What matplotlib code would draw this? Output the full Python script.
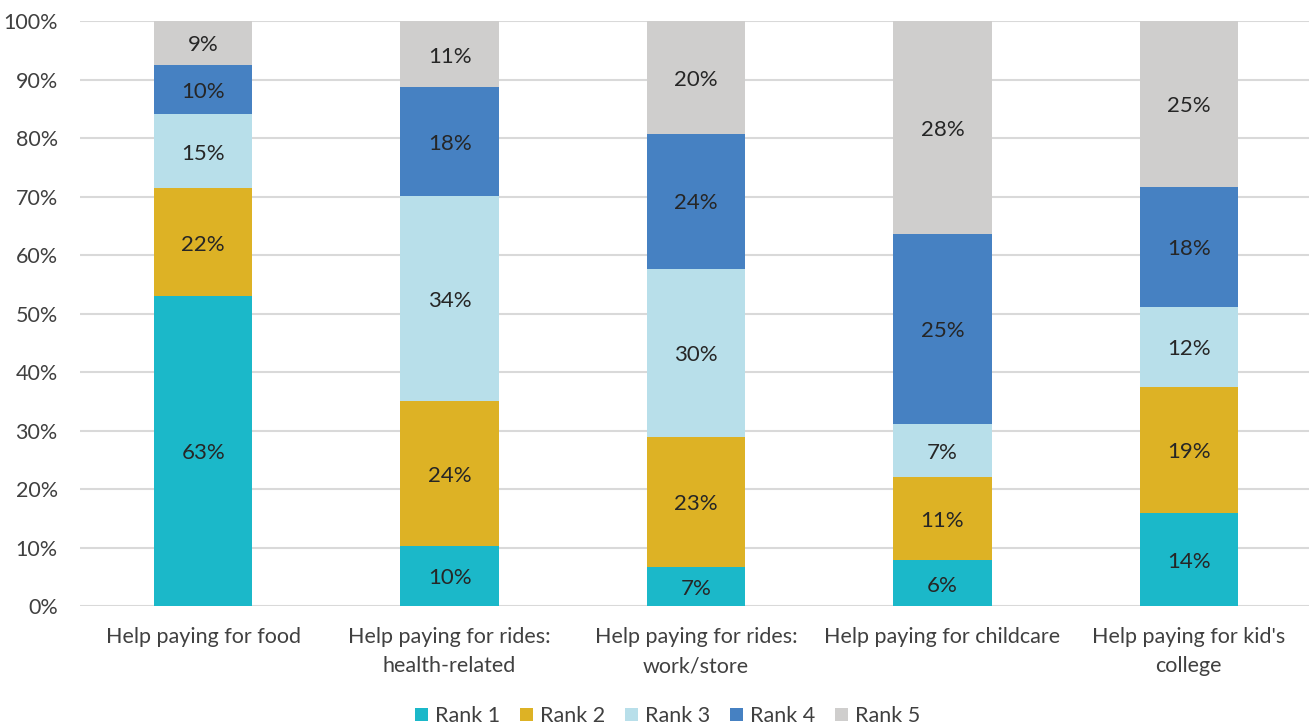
import numpy as np
import matplotlib.pyplot as plt

plt.rcParams['font.family'] = ['Lato', 'DejaVu Sans']

categories = ['Help paying for food', 'Help paying for rides:\nhealth-related',
              'Help paying for rides:\nwork/store', 'Help paying for childcare',
              "Help paying for kid's\ncollege"]
ranks = ['Rank 1', 'Rank 2', 'Rank 3', 'Rank 4', 'Rank 5']

rank1 = [63, 10, 7, 6, 14]
rank2 = [22, 24, 23, 11, 19]
rank3 = [15, 34, 30, 7, 12]
rank4 = [10, 18, 24, 25, 18]
rank5 = [9, 11, 20, 28, 25]

colors = ['#1BB8C9', '#DDB225', '#B8DFEA', '#4681C2', '#CFCECD']

values = np.array([rank1, rank2, rank3, rank4, rank5], dtype=float)
shares = values / values.sum(axis=0)  # 100% stacked

fig = plt.figure(figsize=(13.09, 7.25), dpi=100)
ax = fig.add_axes([80 / 1309, 1 - 606 / 725, 1232 / 1309, 585 / 725])

x = np.arange(len(categories))
bottom = np.zeros(len(categories))
for i in range(len(ranks)):
    bars = ax.bar(x, shares[i], 0.4, bottom=bottom, color=colors[i], label=ranks[i], zorder=2)
    for j, b in enumerate(bars):
        ax.text(b.get_x() + b.get_width() / 2, bottom[j] + shares[i][j] / 2 - 0.004,
                '{}%'.format(int(values[i][j])), ha='center', va='center',
                fontsize=16, color='#262626', zorder=3)
    bottom += shares[i]

ax.set_xlim(-0.5, 4.5)
ax.set_ylim(0, 1)
ax.set_yticks(np.arange(0, 1.01, 0.1))
ax.set_yticklabels(['{}%'.format(v) for v in range(0, 101, 10)])
ax.set_xticks(x, categories)
for lbl in ax.get_xticklabels():
    lbl.set_linespacing(1.6)
ax.tick_params(axis='both', length=0, labelsize=15.5, colors='#404040')
ax.tick_params(axis='x', pad=15)
ax.tick_params(axis='y', pad=16)
ax.yaxis.grid(True, color='#D9D9D9', linewidth=1.5, zorder=0)
for s in ax.spines.values():
    s.set_visible(False)

fig.legend(loc='center', bbox_to_anchor=(0.51, 1 - 716 / 725), ncol=5, frameon=False,
           fontsize=15.5, handlelength=0.6, handleheight=0.6, handletextpad=0.35,
           columnspacing=0.9, labelcolor='#404040')

fig.savefig('out.png', dpi=100)
